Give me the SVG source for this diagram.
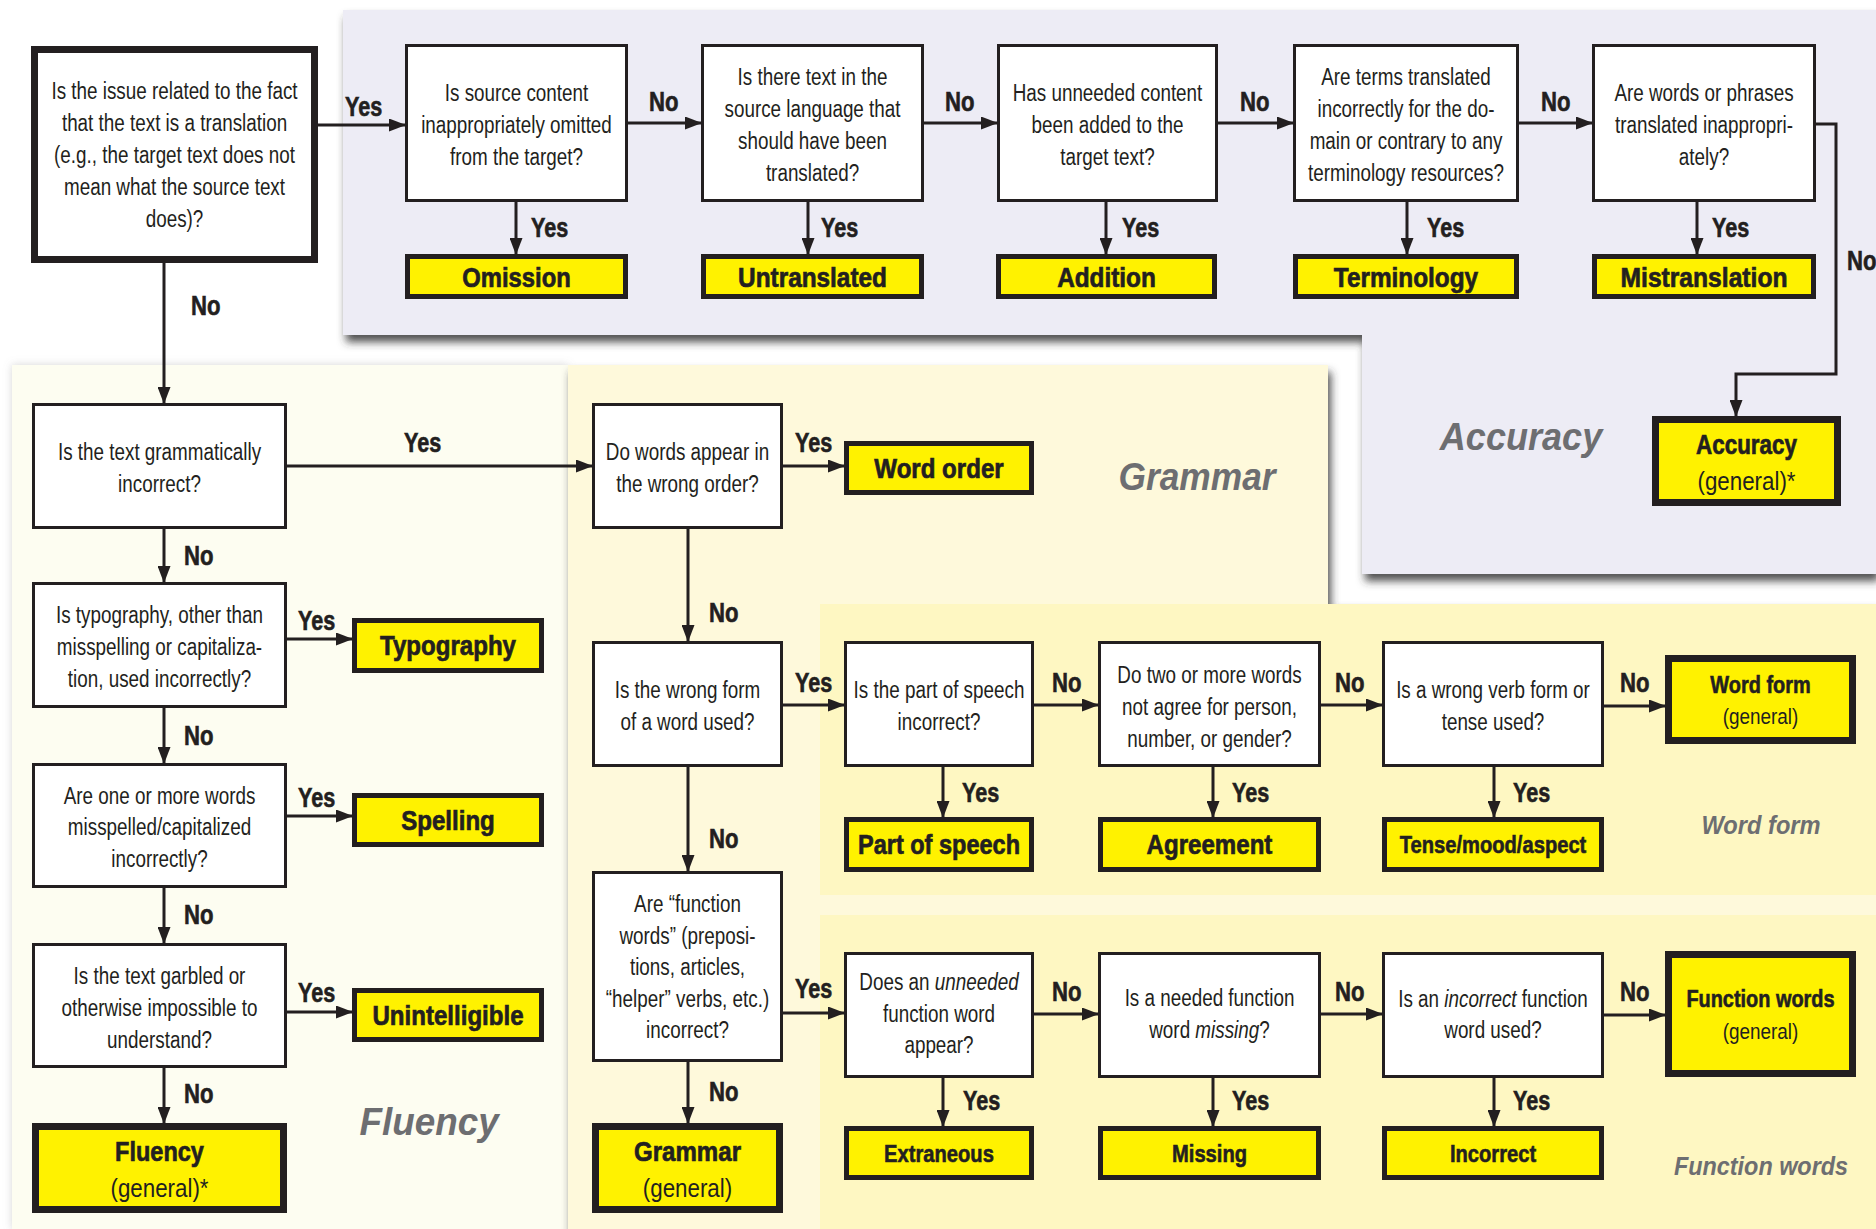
<svg xmlns="http://www.w3.org/2000/svg" width="1876" height="1229" viewBox="0 0 1876 1229">
<style>
text{font-family:"Liberation Sans",Arial,sans-serif;fill:#231f20}
.q{font-size:23px;text-anchor:middle}
.lb{font-size:27px;font-weight:bold;stroke:#231f20;stroke-width:0.6}
.r{font-size:28px;font-weight:bold;text-anchor:middle;stroke:#231f20;stroke-width:0.7}
.rs{font-size:24px;font-weight:bold;text-anchor:middle;stroke:#231f20;stroke-width:0.6}
.g{font-size:26px;text-anchor:middle}
.gs{font-size:22px;text-anchor:middle}
.cat{font-size:38px;font-weight:bold;font-style:italic;fill:#6d6e71;text-anchor:middle}
.cats{font-size:26px;font-weight:bold;font-style:italic;fill:#6d6e71;text-anchor:middle}
.box{fill:#fff;stroke:#231f20;stroke-width:3}
.res{fill:#fff200;stroke:#231f20;stroke-width:5}
.gen{fill:#fff200;stroke:#231f20;stroke-width:7}
.start{fill:#fff;stroke:#231f20;stroke-width:7}
.c{fill:none;stroke:#231f20;stroke-width:3;marker-end:url(#ah)}
</style>
<defs>
<marker id="ah" markerWidth="17" markerHeight="13" refX="16" refY="6.5" orient="auto" markerUnits="userSpaceOnUse"><path d="M0,0 L17,6.5 L0,13 z" fill="#231f20"/></marker>
<filter id="sh" x="-5%" y="-5%" width="110%" height="115%"><feDropShadow dx="3" dy="7" stdDeviation="4" flood-color="#333" flood-opacity="0.85"/></filter>
<filter id="sh2" x="-5%" y="-5%" width="110%" height="110%"><feDropShadow dx="0" dy="0" stdDeviation="4" flood-color="#888" flood-opacity="0.35"/></filter>
</defs>
<rect width="1876" height="1229" fill="#fff"/>
<g id="regions">
<rect id="fluency-area" x="12" y="365" width="556" height="864" fill="#fdfdf1" filter="url(#sh2)"/>
<polygon id="grammar-area" points="568,365 1328,365 1328,604 1876,604 1876,1229 568,1229" fill="#fef9db" filter="url(#sh)"/>
<rect id="wordform-area" x="820" y="604" width="1056" height="291" fill="#fef7c2"/>
<rect id="functionwords-area" x="820" y="915" width="1056" height="314" fill="#fef7c2"/>
<polygon id="accuracy-area" points="343,10 1876,10 1876,574 1362,574 1362,335 343,335" fill="#edecf5" filter="url(#sh)"/>
<text class="cat" transform="translate(1521 0) scale(0.95 1)" y="450">Accuracy</text>
<text class="cat" transform="translate(1197 0) scale(0.93 1)" y="490">Grammar</text>
<text class="cat" transform="translate(429 0) scale(0.97 1)" y="1135">Fluency</text>
<text class="cats" transform="translate(1761 0) scale(0.91 1)" y="834">Word form</text>
<text class="cats" transform="translate(1761 0) scale(0.9 1)" y="1175">Function words</text>
</g>
<g id="connectors">
<path class="c" d="M318,125 H405"/>
<path class="c" d="M628,123 H701"/>
<path class="c" d="M924,123 H997"/>
<path class="c" d="M1218,123 H1293"/>
<path class="c" d="M1519,123 H1592"/>
<path class="c" d="M516,202 V254"/>
<path class="c" d="M808,202 V254"/>
<path class="c" d="M1106,202 V254"/>
<path class="c" d="M1407,202 V254"/>
<path class="c" d="M1697,202 V254"/>
<path class="c" d="M1816,124 H1836 V374 H1736 V416"/>
<path class="c" d="M164,263 V403"/>
<path class="c" d="M287,466 H592"/>
<path class="c" d="M164,529 V582"/>
<path class="c" d="M287,639 H352"/>
<path class="c" d="M164,708 V763"/>
<path class="c" d="M287,816 H352"/>
<path class="c" d="M164,888 V943"/>
<path class="c" d="M287,1012 H352"/>
<path class="c" d="M164,1068 V1123"/>
<path class="c" d="M783,466 H844"/>
<path class="c" d="M688,529 V641"/>
<path class="c" d="M783,705 H844"/>
<path class="c" d="M1034,705 H1098"/>
<path class="c" d="M1321,705 H1382"/>
<path class="c" d="M1604,706 H1665"/>
<path class="c" d="M943,767 V817"/>
<path class="c" d="M1213,767 V817"/>
<path class="c" d="M1494,767 V817"/>
<path class="c" d="M688,767 V871"/>
<path class="c" d="M783,1013 H844"/>
<path class="c" d="M1034,1014 H1098"/>
<path class="c" d="M1321,1014 H1382"/>
<path class="c" d="M1604,1015 H1665"/>
<path class="c" d="M943,1078 V1126"/>
<path class="c" d="M1213,1078 V1126"/>
<path class="c" d="M1494,1078 V1126"/>
<path class="c" d="M688,1062 V1123"/>
<g id="labels">
<text class="lb" transform="translate(345 0) scale(0.8 1)" y="116">Yes</text>
<text class="lb" transform="translate(649 0) scale(0.82 1)" y="111">No</text>
<text class="lb" transform="translate(945 0) scale(0.82 1)" y="111">No</text>
<text class="lb" transform="translate(1240 0) scale(0.82 1)" y="111">No</text>
<text class="lb" transform="translate(1541 0) scale(0.82 1)" y="111">No</text>
<text class="lb" transform="translate(531 0) scale(0.8 1)" y="237">Yes</text>
<text class="lb" transform="translate(821 0) scale(0.8 1)" y="237">Yes</text>
<text class="lb" transform="translate(1122 0) scale(0.8 1)" y="237">Yes</text>
<text class="lb" transform="translate(1427 0) scale(0.8 1)" y="237">Yes</text>
<text class="lb" transform="translate(1712 0) scale(0.8 1)" y="237">Yes</text>
<text class="lb" transform="translate(1847 0) scale(0.82 1)" y="270">No</text>
<text class="lb" transform="translate(191 0) scale(0.82 1)" y="315">No</text>
<text class="lb" transform="translate(404 0) scale(0.8 1)" y="452">Yes</text>
<text class="lb" transform="translate(184 0) scale(0.82 1)" y="565">No</text>
<text class="lb" transform="translate(298 0) scale(0.8 1)" y="630">Yes</text>
<text class="lb" transform="translate(184 0) scale(0.82 1)" y="745">No</text>
<text class="lb" transform="translate(298 0) scale(0.8 1)" y="807">Yes</text>
<text class="lb" transform="translate(184 0) scale(0.82 1)" y="924">No</text>
<text class="lb" transform="translate(298 0) scale(0.8 1)" y="1002">Yes</text>
<text class="lb" transform="translate(184 0) scale(0.82 1)" y="1103">No</text>
<text class="lb" transform="translate(795 0) scale(0.8 1)" y="452">Yes</text>
<text class="lb" transform="translate(709 0) scale(0.82 1)" y="622">No</text>
<text class="lb" transform="translate(795 0) scale(0.8 1)" y="692">Yes</text>
<text class="lb" transform="translate(1052 0) scale(0.82 1)" y="692">No</text>
<text class="lb" transform="translate(1335 0) scale(0.82 1)" y="692">No</text>
<text class="lb" transform="translate(1620 0) scale(0.82 1)" y="692">No</text>
<text class="lb" transform="translate(962 0) scale(0.8 1)" y="802">Yes</text>
<text class="lb" transform="translate(1232 0) scale(0.8 1)" y="802">Yes</text>
<text class="lb" transform="translate(1513 0) scale(0.8 1)" y="802">Yes</text>
<text class="lb" transform="translate(709 0) scale(0.82 1)" y="848">No</text>
<text class="lb" transform="translate(795 0) scale(0.8 1)" y="998">Yes</text>
<text class="lb" transform="translate(1052 0) scale(0.82 1)" y="1001">No</text>
<text class="lb" transform="translate(1335 0) scale(0.82 1)" y="1001">No</text>
<text class="lb" transform="translate(1620 0) scale(0.82 1)" y="1001">No</text>
<text class="lb" transform="translate(963 0) scale(0.8 1)" y="1110">Yes</text>
<text class="lb" transform="translate(1232 0) scale(0.8 1)" y="1110">Yes</text>
<text class="lb" transform="translate(1513 0) scale(0.8 1)" y="1110">Yes</text>
<text class="lb" transform="translate(709 0) scale(0.82 1)" y="1101">No</text>
</g>
</g>
<g id="q1"><rect class="start" x="34.5" y="49.5" width="280" height="210"/>
<text class="q" transform="translate(174.5 0) scale(0.82 1)"><tspan x="0" y="99">Is the issue related to the fact</tspan><tspan x="0" y="131">that the text is a translation</tspan><tspan x="0" y="163">(e.g., the target text does not</tspan><tspan x="0" y="195">mean what the source text</tspan><tspan x="0" y="227">does)?</tspan></text></g>
<g id="a1"><rect class="box" x="406.5" y="45.5" width="220" height="155"/>
<text class="q" transform="translate(516.5 0) scale(0.82 1)"><tspan x="0" y="101">Is source content</tspan><tspan x="0" y="133">inappropriately omitted</tspan><tspan x="0" y="165">from the target?</tspan></text></g>
<g id="a2"><rect class="box" x="702.5" y="45.5" width="220" height="155"/>
<text class="q" transform="translate(812.5 0) scale(0.82 1)"><tspan x="0" y="85">Is there text in the</tspan><tspan x="0" y="117">source language that</tspan><tspan x="0" y="149">should have been</tspan><tspan x="0" y="181">translated?</tspan></text></g>
<g id="a3"><rect class="box" x="998.5" y="45.5" width="218" height="155"/>
<text class="q" transform="translate(1107.5 0) scale(0.82 1)"><tspan x="0" y="101">Has unneeded content</tspan><tspan x="0" y="133">been added to the</tspan><tspan x="0" y="165">target text?</tspan></text></g>
<g id="a4"><rect class="box" x="1294.5" y="45.5" width="223" height="155"/>
<text class="q" transform="translate(1406 0) scale(0.82 1)"><tspan x="0" y="85">Are terms translated</tspan><tspan x="0" y="117">incorrectly for the do-</tspan><tspan x="0" y="149">main or contrary to any</tspan><tspan x="0" y="181">terminology resources?</tspan></text></g>
<g id="a5"><rect class="box" x="1593.5" y="45.5" width="221" height="155"/>
<text class="q" transform="translate(1704 0) scale(0.82 1)"><tspan x="0" y="101">Are words or phrases</tspan><tspan x="0" y="133">translated inappropri-</tspan><tspan x="0" y="165">ately?</tspan></text></g>
<g id="omission"><rect class="res" x="407.5" y="256.5" width="218" height="40"/><text class="r" transform="translate(516.5 0) scale(0.85 1)" y="287">Omission</text></g>
<g id="untranslated"><rect class="res" x="703.5" y="256.5" width="218" height="40"/><text class="r" transform="translate(812.5 0) scale(0.87 1)" y="287">Untranslated</text></g>
<g id="addition"><rect class="res" x="998.5" y="256.5" width="216" height="40"/><text class="r" transform="translate(1106.5 0) scale(0.87 1)" y="287">Addition</text></g>
<g id="terminology"><rect class="res" x="1295.5" y="256.5" width="221" height="40"/><text class="r" transform="translate(1406 0) scale(0.87 1)" y="287">Terminology</text></g>
<g id="mistranslation"><rect class="res" x="1594.5" y="256.5" width="219" height="40"/><text class="r" transform="translate(1704 0) scale(0.88 1)" y="287">Mistranslation</text></g>
<g id="accuracy-general"><rect class="gen" x="1655.5" y="419.5" width="182" height="83"/>
<text class="r" transform="translate(1746.5 0) scale(0.8 1)" y="454">Accuracy</text><text class="g" transform="translate(1746.5 0) scale(0.86 1)" y="490">(general)*</text></g>
<g id="f1"><rect class="box" x="33.5" y="404.5" width="252" height="123"/>
<text class="q" transform="translate(159.5 0) scale(0.82 1)"><tspan x="0" y="460">Is the text grammatically</tspan><tspan x="0" y="492">incorrect?</tspan></text></g>
<g id="f2"><rect class="box" x="33.5" y="583.5" width="252" height="123"/>
<text class="q" transform="translate(159.5 0) scale(0.82 1)"><tspan x="0" y="623">Is typography, other than</tspan><tspan x="0" y="655">misspelling or capitaliza-</tspan><tspan x="0" y="687">tion, used incorrectly?</tspan></text></g>
<g id="f3"><rect class="box" x="33.5" y="764.5" width="252" height="122"/>
<text class="q" transform="translate(159.5 0) scale(0.82 1)"><tspan x="0" y="804">Are one or more words</tspan><tspan x="0" y="835">misspelled/capitalized</tspan><tspan x="0" y="867">incorrectly?</tspan></text></g>
<g id="f4"><rect class="box" x="33.5" y="944.5" width="252" height="122"/>
<text class="q" transform="translate(159.5 0) scale(0.82 1)"><tspan x="0" y="984">Is the text garbled or</tspan><tspan x="0" y="1016">otherwise impossible to</tspan><tspan x="0" y="1048">understand?</tspan></text></g>
<g id="typography"><rect class="res" x="354.5" y="620.5" width="187" height="50"/><text class="r" transform="translate(448 0) scale(0.86 1)" y="655">Typography</text></g>
<g id="spelling"><rect class="res" x="354.5" y="795.5" width="187" height="49"/><text class="r" transform="translate(448 0) scale(0.86 1)" y="830">Spelling</text></g>
<g id="unintelligible"><rect class="res" x="354.5" y="990.5" width="187" height="49"/><text class="r" transform="translate(448 0) scale(0.86 1)" y="1025">Unintelligible</text></g>
<g id="fluency-general"><rect class="gen" x="35.5" y="1126.5" width="248" height="83"/>
<text class="r" transform="translate(159.5 0) scale(0.84 1)" y="1161">Fluency</text><text class="g" transform="translate(159.5 0) scale(0.86 1)" y="1197">(general)*</text></g>
<g id="g1"><rect class="box" x="593.5" y="404.5" width="188" height="123"/>
<text class="q" transform="translate(687.5 0) scale(0.82 1)"><tspan x="0" y="460">Do words appear in</tspan><tspan x="0" y="492">the wrong order?</tspan></text></g>
<g id="word-order"><rect class="res" x="846.5" y="443.5" width="185" height="49"/><text class="r" transform="translate(939 0) scale(0.86 1)" y="478">Word order</text></g>
<g id="g2"><rect class="box" x="593.5" y="642.5" width="188" height="123"/>
<text class="q" transform="translate(687.5 0) scale(0.82 1)"><tspan x="0" y="698">Is the wrong form</tspan><tspan x="0" y="730">of a word used?</tspan></text></g>
<g id="g3"><rect class="box" x="593.5" y="872.5" width="188" height="188"/>
<text class="q" transform="translate(687.5 0) scale(0.82 1)"><tspan x="0" y="912">Are “function</tspan><tspan x="0" y="944">words” (preposi-</tspan><tspan x="0" y="975">tions, articles,</tspan><tspan x="0" y="1007">“helper” verbs, etc.)</tspan><tspan x="0" y="1038">incorrect?</tspan></text></g>
<g id="grammar-general"><rect class="gen" x="595.5" y="1126.5" width="184" height="83"/>
<text class="r" transform="translate(687.5 0) scale(0.86 1)" y="1161">Grammar</text><text class="g" transform="translate(687.5 0) scale(0.86 1)" y="1197">(general)</text></g>
<g id="wf1"><rect class="box" x="845.5" y="642.5" width="187" height="123"/>
<text class="q" transform="translate(939 0) scale(0.82 1)"><tspan x="0" y="698">Is the part of speech</tspan><tspan x="0" y="730">incorrect?</tspan></text></g>
<g id="wf2"><rect class="box" x="1099.5" y="642.5" width="220" height="123"/>
<text class="q" transform="translate(1209.5 0) scale(0.82 1)"><tspan x="0" y="683">Do two or more words</tspan><tspan x="0" y="715">not agree for person,</tspan><tspan x="0" y="747">number, or gender?</tspan></text></g>
<g id="wf3"><rect class="box" x="1383.5" y="642.5" width="219" height="123"/>
<text class="q" transform="translate(1493 0) scale(0.82 1)"><tspan x="0" y="698">Is a wrong verb form or</tspan><tspan x="0" y="730">tense used?</tspan></text></g>
<g id="wordform-general"><rect class="gen" x="1668.5" y="658.5" width="184" height="82"/>
<text class="rs" transform="translate(1760.5 0) scale(0.83 1)" y="693">Word form</text><text class="gs" transform="translate(1760.5 0) scale(0.86 1)" y="724">(general)</text></g>
<g id="part-of-speech"><rect class="res" x="846.5" y="819.5" width="185" height="50"/><text class="r" transform="translate(939 0) scale(0.84 1)" y="854">Part of speech</text></g>
<g id="agreement"><rect class="res" x="1100.5" y="819.5" width="218" height="50"/><text class="r" transform="translate(1209.5 0) scale(0.86 1)" y="854">Agreement</text></g>
<g id="tense"><rect class="res" x="1384.5" y="819.5" width="217" height="50"/><text class="rs" transform="translate(1493 0) scale(0.84 1)" y="853">Tense/mood/aspect</text></g>
<g id="fw1"><rect class="box" x="845.5" y="953.5" width="187" height="123"/>
<text class="q" transform="translate(939 0) scale(0.82 1)"><tspan x="0" y="990">Does an <tspan font-style="italic">unneeded</tspan></tspan><tspan x="0" y="1022">function word</tspan><tspan x="0" y="1053">appear?</tspan></text></g>
<g id="fw2"><rect class="box" x="1099.5" y="953.5" width="220" height="123"/>
<text class="q" transform="translate(1209.5 0) scale(0.82 1)"><tspan x="0" y="1006">Is a needed function</tspan><tspan x="0" y="1038">word <tspan font-style="italic">missing</tspan>?</tspan></text></g>
<g id="fw3"><rect class="box" x="1383.5" y="953.5" width="219" height="123"/>
<text class="q" transform="translate(1493 0) scale(0.82 1)"><tspan x="0" y="1007">Is an <tspan font-style="italic">incorrect</tspan> function</tspan><tspan x="0" y="1038">word used?</tspan></text></g>
<g id="functionwords-general"><rect class="gen" x="1668.5" y="954.5" width="184" height="119"/>
<text class="rs" transform="translate(1760.5 0) scale(0.83 1)" y="1007">Function words</text><text class="gs" transform="translate(1760.5 0) scale(0.86 1)" y="1039">(general)</text></g>
<g id="extraneous"><rect class="res" x="846.5" y="1128.5" width="185" height="49"/><text class="rs" transform="translate(939 0) scale(0.84 1)" y="1162">Extraneous</text></g>
<g id="missing"><rect class="res" x="1100.5" y="1128.5" width="218" height="49"/><text class="rs" transform="translate(1209.5 0) scale(0.84 1)" y="1162">Missing</text></g>
<g id="incorrect"><rect class="res" x="1384.5" y="1128.5" width="217" height="49"/><text class="rs" transform="translate(1493 0) scale(0.84 1)" y="1162">Incorrect</text></g>
</svg>
